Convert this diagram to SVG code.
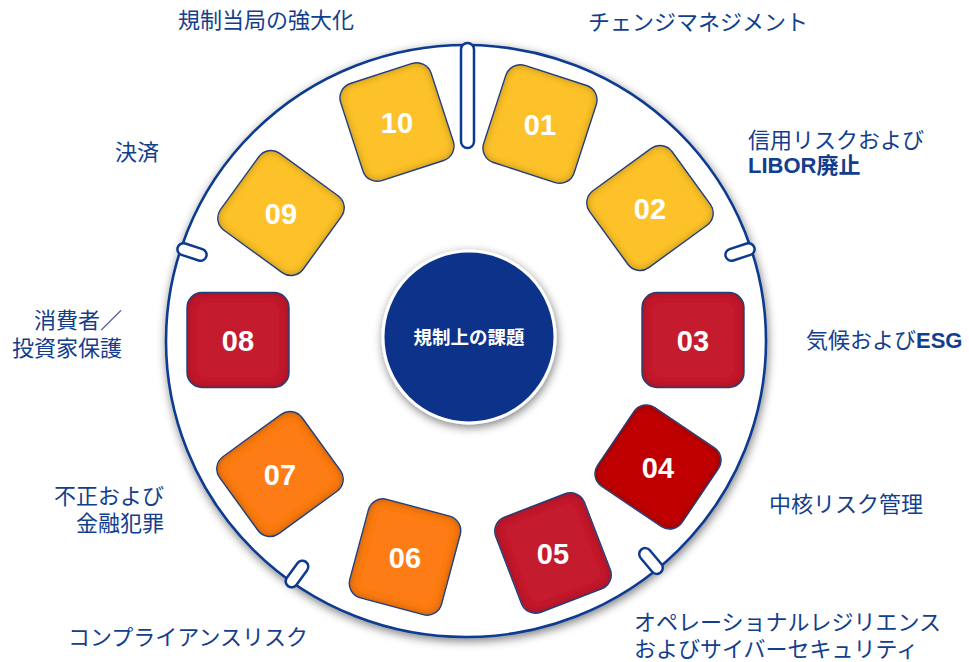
<svg xmlns="http://www.w3.org/2000/svg" width="969" height="662" viewBox="0 0 969 662">
<style>
.lbl{font-family:"Noto Sans CJK JP","Noto Sans CJK SC",sans-serif;font-size:22px;fill:#123E8E}
.b{font-weight:bold}
.lat{font-family:"Liberation Sans",Arial,sans-serif}
.num{font-family:"Liberation Sans",Arial,sans-serif;font-weight:bold;font-size:29px;fill:#fff;text-anchor:middle}
.yel{fill:#FDC22B}
.red{fill:#C41E2F}
.dred{fill:#C00000}
.org{fill:#FD7B19}
.edge{fill:none;stroke:#223E7C;stroke-width:1.4}
.cap{fill:#fff;stroke:#0C3A8F;stroke-width:2.5}
</style>
<defs>
<filter id="inner" x="-10%" y="-10%" width="120%" height="120%">
<feGaussianBlur in="SourceAlpha" stdDeviation="4" result="blur"/>
<feComposite in="SourceAlpha" in2="blur" operator="arithmetic" k2="1" k3="-1" result="edgeA"/>
<feFlood flood-color="#000" flood-opacity="0.6"/>
<feComposite in2="edgeA" operator="in" result="sh"/>
<feMerge><feMergeNode in="SourceGraphic"/><feMergeNode in="sh"/></feMerge>
</filter>
<filter id="drop" x="-10%" y="-10%" width="120%" height="120%">
<feGaussianBlur in="SourceAlpha" stdDeviation="5"/>
<feOffset dx="1" dy="3" result="o"/>
<feFlood flood-color="#000" flood-opacity="0.5"/>
<feComposite in2="o" operator="in"/>
<feMerge><feMergeNode/><feMergeNode in="SourceGraphic"/></feMerge>
</filter>
<rect id="tl" x="-51" y="-47.5" width="102" height="95" rx="15"/>
</defs>

<g id="ring">
<ellipse cx="466" cy="341" rx="300" ry="296" fill="#fff" stroke="#0C3A8F" stroke-width="2.6" filter="url(#drop)"/>
<rect class="cap" x="461" y="43" width="13" height="105" rx="6.5"/>
<rect class="cap" x="-15" y="-6" width="30" height="12" rx="6" transform="translate(740,252) rotate(-18)"/>
<rect class="cap" x="-15" y="-6" width="30" height="12" rx="6" transform="translate(651,561) rotate(50)"/>
<rect class="cap" x="-15" y="-6" width="30" height="12" rx="6" transform="translate(297,574) rotate(126)"/>
<rect class="cap" x="-15" y="-6" width="30" height="12" rx="6" transform="translate(192,252) rotate(198)"/>
</g>

<g id="center">
<circle cx="469" cy="337" r="86" fill="#0A3389" stroke="#fff" stroke-width="3" filter="url(#drop)"/>
<text x="469" y="344" font-family="'Noto Sans CJK JP',sans-serif" font-weight="bold" font-size="18.5" fill="#fff" text-anchor="middle">規制上の課題</text>
</g>

<g id="n01"><g transform="translate(540,124) rotate(-72)"><use href="#tl" class="yel" filter="url(#inner)"/><use href="#tl" class="edge"/></g><text class="num" x="540" y="134.5">01</text></g>
<g id="n02"><g transform="translate(650,208) rotate(-36)"><use href="#tl" class="yel" filter="url(#inner)"/><use href="#tl" class="edge"/></g><text class="num" x="650" y="218.5">02</text></g>
<g id="n03"><g transform="translate(693,340)"><use href="#tl" class="red" filter="url(#inner)"/><use href="#tl" class="edge"/></g><text class="num" x="693" y="350.5">03</text></g>
<g id="n04"><g transform="translate(658,467) rotate(34)"><use href="#tl" class="dred" filter="url(#inner)"/><use href="#tl" class="edge"/></g><text class="num" x="658" y="477.5">04</text></g>
<g id="n05"><g transform="translate(553,553) rotate(69)"><use href="#tl" class="red" filter="url(#inner)"/><use href="#tl" class="edge"/></g><text class="num" x="553" y="563.5">05</text></g>
<g id="n06"><g transform="translate(405,557) rotate(105)"><use href="#tl" class="org" filter="url(#inner)"/><use href="#tl" class="edge"/></g><text class="num" x="405" y="567.5">06</text></g>
<g id="n07"><g transform="translate(280,474) rotate(144)"><use href="#tl" class="org" filter="url(#inner)"/><use href="#tl" class="edge"/></g><text class="num" x="280" y="484.5">07</text></g>
<g id="n08"><g transform="translate(238,340)"><use href="#tl" class="red" filter="url(#inner)"/><use href="#tl" class="edge"/></g><text class="num" x="238" y="350.5">08</text></g>
<g id="n09"><g transform="translate(281,213) rotate(216)"><use href="#tl" class="yel" filter="url(#inner)"/><use href="#tl" class="edge"/></g><text class="num" x="281" y="223.5">09</text></g>
<g id="n10"><g transform="translate(397,122) rotate(252)"><use href="#tl" class="yel" filter="url(#inner)"/><use href="#tl" class="edge"/></g><text class="num" x="397" y="132.5">10</text></g>

<g id="labels">
<text class="lbl" x="178" y="28">規制当局の強大化</text>
<text class="lbl" x="588" y="30">チェンジマネジメント</text>
<text class="lbl" x="748" y="148">信用リスクおよび</text>
<text class="lbl b" x="748" y="173"><tspan class="lat">LIBOR</tspan>廃止</text>
<text class="lbl" x="806" y="348">気候および<tspan class="b lat">ESG</tspan></text>
<text class="lbl" x="769" y="512">中核リスク管理</text>
<text class="lbl" x="634" y="630">オペレーショナルレジリエンス</text>
<text class="lbl" x="634" y="657">およびサイバーセキュリティ</text>
<text class="lbl" x="68" y="645">コンプライアンスリスク</text>
<text class="lbl" x="164" y="504" text-anchor="end">不正および</text>
<text class="lbl" x="164" y="531" text-anchor="end">金融犯罪</text>
<text class="lbl" x="122" y="328" text-anchor="end">消費者／</text>
<text class="lbl" x="122" y="356" text-anchor="end">投資家保護</text>
<text class="lbl" x="115" y="160">決済</text>
</g>
</svg>
